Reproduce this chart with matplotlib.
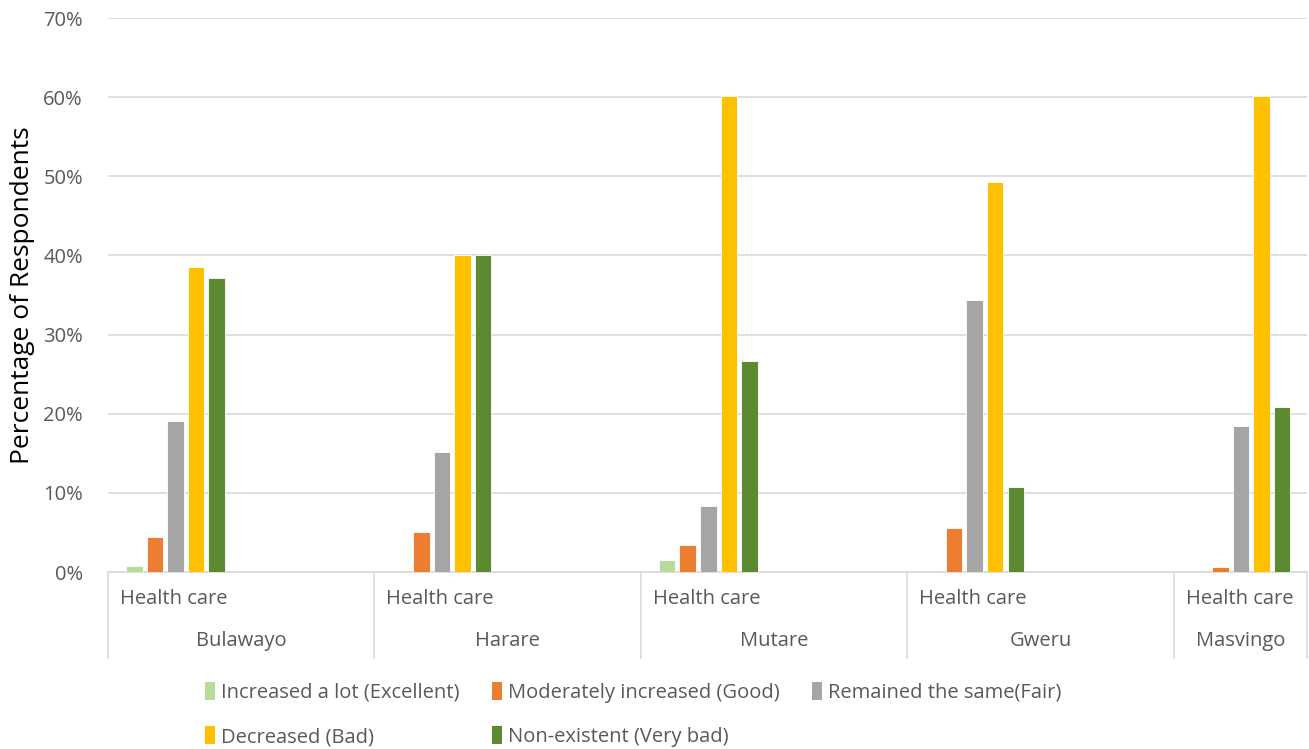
import numpy as np
import matplotlib.pyplot as plt
from matplotlib.patches import Patch
import matplotlib.transforms as mtransforms

plt.rcParams['font.family'] = ['Open Sans', 'DejaVu Sans']

cities = ['Bulawayo', 'Harare', 'Mutare', 'Gweru', 'Masvingo']
sub_label = 'Health care'
series_names = ['Increased a lot (Excellent)', 'Moderately increased (Good)',
                'Remained the same(Fair)', 'Decreased (Bad)', 'Non-existent (Very bad)']
colors = ['#B8DA9B', '#ED7D31', '#A5A5A5', '#FFC000', '#5B8A30']

excellent = [0.7, 0.0, 1.5, 0.0, 0.0]
good = [4.4, 5.0, 3.4, 5.6, 0.6]
fair = [19.1, 15.2, 8.3, 34.4, 18.5]
bad = [38.6, 40.0, 60.2, 49.3, 60.2]
very_bad = [37.2, 40.0, 26.7, 10.7, 20.8]
values = [excellent, good, fair, bad, very_bad]

yticks = [0, 10, 20, 30, 40, 50, 60, 70]

W, H = 1309, 749
fs = 14.5
fig = plt.figure(figsize=(W / 100, H / 100), dpi=100)
ax = fig.add_axes([108 / W, 1 - 572 / H, (1307 - 108) / W, (572 - 18) / H])

# bars sit in the left part of each category slot (Excel layout)
slot = 266.0
bar_w = 16.5 / slot
step = 20.5 / slot
start = 18.0 / slot
x0 = np.arange(len(cities))
for j, (vals, col) in enumerate(zip(values, colors)):
    ax.bar(x0 + start + j * step, vals, width=bar_w, align='edge',
           color=col, edgecolor='white', linewidth=0.6, zorder=3)

ax.set_xlim(0, 4.5)
ax.set_ylim(0, 70)
ax.set_yticks(yticks)
ax.set_yticklabels([f'{t}%' for t in yticks], color='#595959', fontsize=fs)
ax.tick_params(axis='y', length=0, pad=18)
ax.set_xticks([])
ax.grid(axis='y', color='#D9D9D9', linewidth=1.2, zorder=0)
for s in ['top', 'right', 'left']:
    ax.spines[s].set_visible(False)
ax.spines['bottom'].set_color('#D9D9D9')
ax.spines['bottom'].set_linewidth(1.2)

ax.set_ylabel('Percentage of Respondents', fontsize=19, color='black', labelpad=6)

# multi-level category axis
trans = mtransforms.blended_transform_factory(ax.transData, ax.transAxes)
y_sep = -(658 - 572) / (572 - 18)
for xb in [0, 1, 2, 3, 4, 4.5]:
    ax.plot([xb, xb], [0, y_sep], transform=trans, color='#D9D9D9',
            linewidth=1.2, clip_on=False)
for i, c in enumerate(cities):
    ax.text(i + 12 / slot, -(599 - 572) / (572 - 18), sub_label, transform=trans,
            ha='left', va='center', fontsize=fs, color='#595959')
    right = min(i + 1, 4.5)
    ax.text((i + right) / 2, -(641 - 572) / (572 - 18), c, transform=trans,
            ha='center', va='center', fontsize=fs, color='#595959')

handles = [Patch(facecolor=c, edgecolor='none') for c in colors]
order = [0, 3, 1, 4, 2]
fig.legend([handles[k] for k in order], [series_names[k] for k in order],
           ncol=3, loc='upper left', bbox_to_anchor=(195 / W, 1 - 672 / H),
           frameon=False, fontsize=fs, labelcolor='#595959',
           handlelength=0.5, handleheight=1.0, handletextpad=0.3,
           columnspacing=1.6, labelspacing=1.15, borderpad=0)

fig.savefig('out.png', dpi=100, facecolor='white')
